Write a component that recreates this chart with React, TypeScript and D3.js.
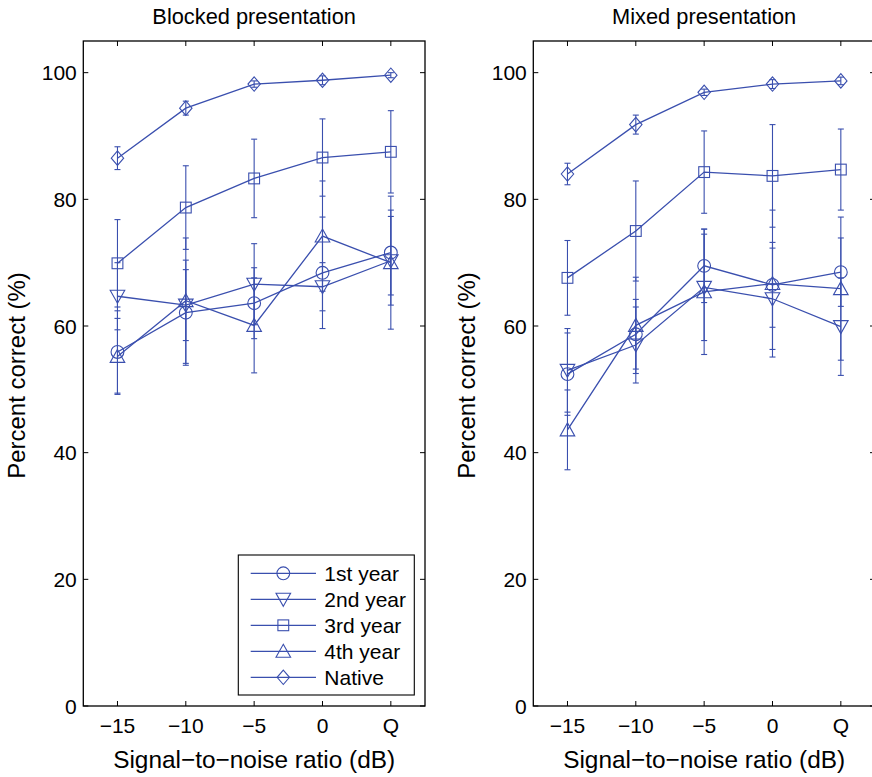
import React from "react";
import * as d3 from "d3";

const categories = ["-15", "-10", "-5", "0", "Q"];
const tickLabels = ["\u221215", "\u221210", "\u22125", "0", "Q"];
const yTicks = [0, 20, 40, 60, 80, 100];
const seriesNames = ["1st year", "2nd year", "3rd year", "4th year", "Native"];
const markers = ["circle", "down", "square", "up", "diamond"];

// Blocked presentation
const blocked1st = [55.9, 62.1, 63.6, 68.4, 71.6];
const blocked1stErr = [6.5, 8.3, 5.6, 8.8, 6.7];
const blocked2nd = [64.7, 63.3, 66.6, 66.2, 70.3];
const blocked2ndErr = [5.3, 5.6, 6.4, 3.8, 7.0];
const blocked3rd = [69.9, 78.7, 83.3, 86.6, 87.5];
const blocked3rdErr = [6.9, 6.6, 6.2, 6.1, 6.5];
const blocked4th = [55.2, 64.0, 60.1, 74.2, 70.0];
const blocked4thErr = [6.0, 9.9, 7.5, 8.7, 10.5];
const blockedNative = [86.5, 94.4, 98.2, 98.8, 99.6];
const blockedNativeErr = [1.8, 1.1, 0.5, 0.7, 0.4];

// Mixed presentation
const mixed1st = [52.4, 58.7, 69.5, 66.5, 68.5];
const mixed1stErr = [6.5, 5.5, 5.8, 6.7, 5.4];
const mixed2nd = [53.0, 57.0, 66.1, 64.3, 59.9];
const mixed2ndErr = [6.6, 6.0, 8.4, 8.0, 7.7];
const mixed3rd = [67.6, 75.0, 84.3, 83.7, 84.7];
const mixed3rdErr = [5.9, 7.9, 6.5, 8.1, 6.4];
const mixed4th = [43.6, 60.1, 65.4, 66.7, 65.9];
const mixed4thErr = [6.3, 7.6, 9.9, 11.6, 11.3];
const mixedNative = [84.0, 91.8, 96.9, 98.2, 98.7];
const mixedNativeErr = [1.7, 1.5, 0.5, 0.7, 0.6];

const panels = [
  {
    title: "Blocked presentation",
    left: 83.3,
    values: [blocked1st, blocked2nd, blocked3rd, blocked4th, blockedNative],
    errors: [blocked1stErr, blocked2ndErr, blocked3rdErr, blocked4thErr, blockedNativeErr],
    legend: true,
  },
  {
    title: "Mixed presentation",
    left: 533.3,
    values: [mixed1st, mixed2nd, mixed3rd, mixed4th, mixedNative],
    errors: [mixed1stErr, mixed2ndErr, mixed3rdErr, mixed4thErr, mixedNativeErr],
    legend: false,
  },
];

const COLOR = "#3a4fae";
const FONT = "'Liberation Sans', Arial, Helvetica, sans-serif";
const W = 872;
const H = 777;
const TOP = 41;
const BOTTOM = 706;
const PW = 341.7;

function Marker({ type, x, y }: { type: string; x: number; y: number }) {
  const common = { fill: "none", stroke: COLOR, strokeWidth: 1.1 };
  if (type === "circle") return <circle cx={x} cy={y} r={6.4} {...common} />;
  if (type === "square") return <rect x={x - 5.4} y={y - 5.4} width={10.8} height={10.8} {...common} />;
  if (type === "up")
    return <path d={`M${x},${y - 7} L${x + 7.3},${y + 6} L${x - 7.3},${y + 6} Z`} {...common} />;
  if (type === "down")
    return <path d={`M${x},${y + 7} L${x + 7.3},${y - 6} L${x - 7.3},${y - 6} Z`} {...common} />;
  return <path d={`M${x},${y - 7.2} L${x + 6.2},${y} L${x},${y + 7.2} L${x - 6.2},${y} Z`} {...common} />;
}

function Panel({ p }: { p: (typeof panels)[number] }) {
  const x = d3.scaleLinear().domain([-0.5, 4.5]).range([p.left, p.left + PW]);
  const y = d3.scaleLinear().domain([0, 105]).range([BOTTOM, TOP]);
  const line = d3
    .line<number>()
    .x((_, i) => x(i))
    .y((v) => y(v));
  const right = p.left + PW;
  const tl = 5;
  return (
    <g>
      <text
        x={(p.left + right) / 2}
        y={24}
        textAnchor="middle"
        fontSize={21.8}
        fontFamily={FONT}
        fill="#000"
      >
        {p.title}
      </text>
      {p.values.map((vals, si) => (
        <g key={si}>
          {vals.map((v, i) => {
            const e = p.errors[si][i];
            const cx = x(i);
            return (
              <g key={i} stroke={COLOR} strokeWidth={1.1}>
                <line x1={cx} x2={cx} y1={y(v - e)} y2={y(v + e)} />
                <line x1={cx - 3} x2={cx + 3} y1={y(v - e)} y2={y(v - e)} />
                <line x1={cx - 3} x2={cx + 3} y1={y(v + e)} y2={y(v + e)} />
              </g>
            );
          })}
          <path d={line(vals) || ""} fill="none" stroke={COLOR} strokeWidth={1.3} />
          {vals.map((v, i) => (
            <Marker key={i} type={markers[si]} x={x(i)} y={y(v)} />
          ))}
        </g>
      ))}
      <rect x={p.left} y={TOP} width={PW} height={BOTTOM - TOP} fill="none" stroke="#000" strokeWidth={1.3} />
      {categories.map((c, i) => (
        <g key={c} stroke="#000" strokeWidth={1}>
          <line x1={x(i)} x2={x(i)} y1={BOTTOM} y2={BOTTOM - tl} />
          <line x1={x(i)} x2={x(i)} y1={TOP} y2={TOP + tl} />
        </g>
      ))}
      {categories.map((c, i) => (
        <text
          key={c}
          x={x(i)}
          y={733}
          textAnchor="middle"
          fontSize={21}
          fontFamily={FONT}
          fill="#000"
        >
          {tickLabels[i]}
        </text>
      ))}
      {yTicks.map((t) => (
        <g key={t}>
          <line x1={p.left} x2={p.left + tl} y1={y(t)} y2={y(t)} stroke="#000" strokeWidth={1} />
          <line x1={right} x2={right - tl} y1={y(t)} y2={y(t)} stroke="#000" strokeWidth={1} />
          <text
            x={p.left - 6.5}
            y={y(t)}
            dy="0.36em"
            textAnchor="end"
            fontSize={21}
            fontFamily={FONT}
            fill="#000"
          >
            {t}
          </text>
        </g>
      ))}
      <text
        x={(p.left + right) / 2}
        y={768}
        textAnchor="middle"
        fontSize={24.4}
        fontFamily={FONT}
        fill="#000"
      >
        Signal{"\u2212"}to{"\u2212"}noise ratio (dB)
      </text>
      <text
        transform={`translate(${p.left - 58.5},${(TOP + BOTTOM) / 2 + 2}) rotate(-90)`}
        textAnchor="middle"
        fontSize={24}
        fontFamily={FONT}
        fill="#000"
      >
        Percent correct (%)
      </text>
      {p.legend && (
        <g>
          <rect x={238.3} y={555} width={176} height={140} fill="#fff" stroke="#000" strokeWidth={1.1} />
          {seriesNames.map((n, i) => {
            const ly = 573.3 + i * 26;
            return (
              <g key={n}>
                <line x1={250.7} x2={316} y1={ly} y2={ly} stroke={COLOR} strokeWidth={1.2} />
                <Marker type={markers[i]} x={283.3} y={ly} />
                <text x={324.3} y={ly} dy="0.36em" fontSize={21} fontFamily={FONT} fill="#000">
                  {n}
                </text>
              </g>
            );
          })}
        </g>
      )}
    </g>
  );
}

export default function App() {
  return (
    <svg
      width={W}
      height={H}
      style={{ position: "absolute", left: 0, top: 0, background: "#fff" }}
    >
      <rect x={0} y={0} width={W} height={H} fill="#fff" />
      {panels.map((p) => (
        <Panel key={p.title} p={p} />
      ))}
    </svg>
  );
}
